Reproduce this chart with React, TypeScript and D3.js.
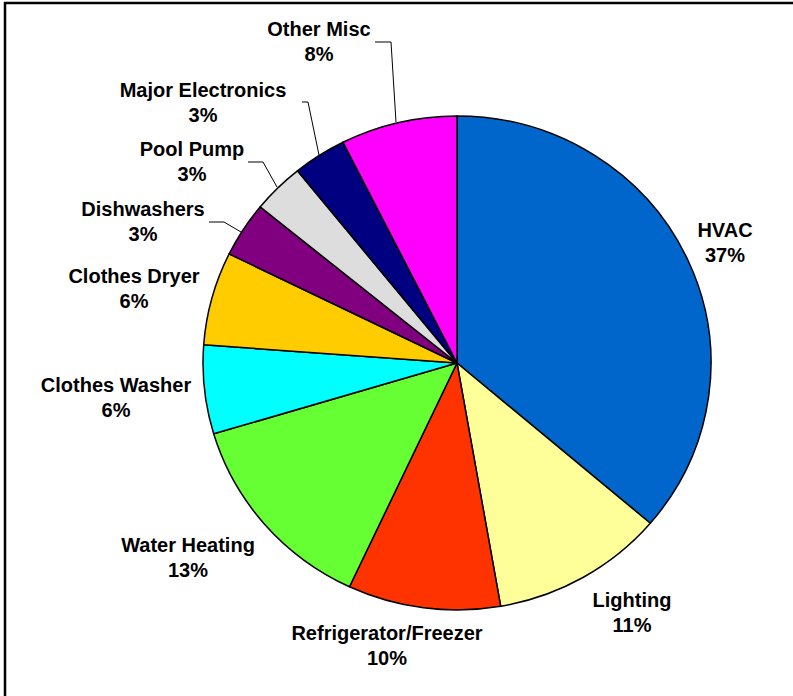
import React from "react";
import * as d3 from "d3";

const categories = [
  "HVAC",
  "Lighting",
  "Refrigerator/Freezer",
  "Water Heating",
  "Clothes Washer",
  "Clothes Dryer",
  "Dishwashers",
  "Pool Pump",
  "Major Electronics",
  "Other Misc",
];
const values = [36.2, 11.0, 9.7, 13.4, 5.8, 6.1, 3.6, 3.3, 3.4, 7.4];
const pctLabels = ["37%", "11%", "10%", "13%", "6%", "6%", "3%", "3%", "3%", "8%"];
const colors = [
  "#0066CC",
  "#FFFF99",
  "#FF3300",
  "#66FF33",
  "#00FFFF",
  "#FFCC00",
  "#800080",
  "#DDDDDD",
  "#000080",
  "#FF00FF",
];
// label anchor: center x, first-line baseline y
const labelPos: [number, number][] = [
  [725, 237],
  [632, 607],
  [387, 640],
  [188, 552],
  [116, 392],
  [134, 283],
  [143, 216],
  [192, 156],
  [203, 97],
  [319, 36],
];
// leader lines for small slices (index -> polyline)
const leaders: { idx: number; pts: [number, number][] }[] = [
  { idx: 9, pts: [[375, 42], [391, 42], [396, 122]] },
  { idx: 8, pts: [[302, 102], [308, 102], [319, 155]] },
  { idx: 7, pts: [[248, 162], [263, 162], [277, 187]] },
  { idx: 6, pts: [[209, 222], [224, 222], [241, 232]] },
];

const W = 793;
const H = 696;
const cx = 457;
const cy = 363;
const ry = 247;
const rx = 254;

export default function App() {
  const data = categories.map((c, i) => ({ c, v: values[i], i }));
  const pie = d3.pie<{ c: string; v: number; i: number }>().value((d) => d.v).sort(null);
  const arcs = pie(data);
  const arcGen = d3
    .arc<d3.PieArcDatum<{ c: string; v: number; i: number }>>()
    .innerRadius(0)
    .outerRadius(ry);
  const line = d3.line();

  return (
    <svg
      width={W}
      height={H}
      style={{ position: "absolute", left: 0, top: 0, background: "#fff" }}
      fontFamily="'Liberation Sans', Arial, sans-serif"
    >
      <rect x={0} y={0} width={W} height={H} fill="#fff" />
      <rect x={5} y={3} width={W + 20} height={H + 20} fill="none" stroke="#000" strokeWidth={2.5} />
      <g transform={`translate(${cx},${cy}) scale(${rx / ry},1)`}>
        {arcs.map((a) => (
          <path
            key={a.data.c}
            d={arcGen(a) || ""}
            fill={colors[a.data.i]}
            stroke="#000"
            strokeWidth={1.5}
            strokeLinejoin="round"
            vectorEffect="non-scaling-stroke"
          />
        ))}
      </g>
      {leaders.map((l) => (
        <path key={l.idx} d={line(l.pts) || ""} fill="none" stroke="#000" strokeWidth={1} />
      ))}
      {categories.map((c, i) => (
        <text
          key={c}
          x={labelPos[i][0]}
          y={labelPos[i][1]}
          textAnchor="middle"
          fontSize={20}
          fontWeight="bold"
          fill="#000"
        >
          <tspan x={labelPos[i][0]}>{c}</tspan>
          <tspan x={labelPos[i][0]} dy={25}>
            {pctLabels[i]}
          </tspan>
        </text>
      ))}
    </svg>
  );
}
